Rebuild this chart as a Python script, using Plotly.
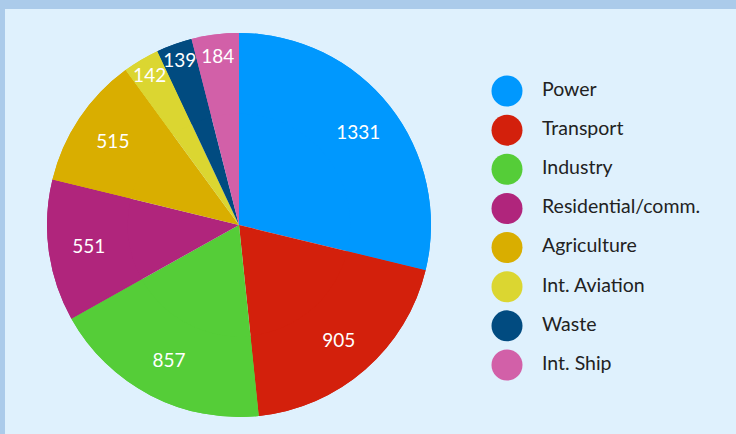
import plotly.graph_objects as go

categories = ["Power", "Transport", "Industry", "Residential/comm.", "Agriculture",
              "Int. Aviation", "Waste", "Int. Ship"]
values = [1331, 905, 857, 551, 515, 142, 139, 184]
colors = ["#0098fe", "#d3200c", "#55cd38", "#b0257c", "#d9ae00", "#dbd631", "#014b80", "#d260a8"]

W, H = 736, 434
BG = "#dff1fd"
BORDER = "#abcbea"
dom = dict(x=[47 / W, 431 / W], y=[17 / H, 401 / H])

fig = go.Figure()
# full pie (slices)
fig.add_trace(go.Pie(
    labels=categories, values=values, sort=False, direction="clockwise", rotation=0,
    marker=dict(colors=colors, line=dict(width=0)),
    textinfo="none", domain=dom, showlegend=False, hoverinfo="label+value",
))
# ring overlay used to place value labels in the outer part of each slice
fig.add_trace(go.Pie(
    labels=categories, values=values, sort=False, direction="clockwise", rotation=0,
    hole=0.58,
    marker=dict(colors=colors, line=dict(width=0)),
    textinfo="value", textposition="inside", insidetextorientation="horizontal",
    textfont=dict(family="Lato", size=19, color="white"),
    domain=dom, showlegend=False, hoverinfo="skip",
))

idx = list(range(len(categories)))
fig.add_trace(go.Scatter(
    x=[0] * len(categories), y=idx, mode="markers",
    marker=dict(size=31, color=colors, line=dict(width=0)),
    xaxis="x2", yaxis="y2", showlegend=False, cliponaxis=False, hoverinfo="skip",
))
fig.add_trace(go.Scatter(
    x=[35] * len(categories), y=idx, mode="text", text=categories,
    textposition="middle right",
    textfont=dict(family="Lato", size=19.5, color="#222222"),
    xaxis="x2", yaxis="y2", showlegend=False, cliponaxis=False, hoverinfo="skip",
))

fig.update_layout(
    width=W, height=H, margin=dict(l=0, r=0, t=0, b=0),
    paper_bgcolor=BORDER, plot_bgcolor="rgba(0,0,0,0)",
    uniformtext=dict(minsize=19, mode="show"),
    xaxis2=dict(domain=[507 / W, 1], range=[0, W - 507], visible=False, fixedrange=True),
    yaxis2=dict(domain=[0, 1], range=[7 + (H - 365) / 39.14, -91 / 39.14],
                visible=False, fixedrange=True),
    shapes=[dict(type="rect", xref="paper", yref="paper", x0=5 / W, x1=1, y0=0, y1=(H - 9) / H,
                 fillcolor=BG, line=dict(width=0), layer="below")],
)

fig.write_html("out.html", config={"displayModeBar": False},
               post_script="document.body.style.margin='0';")
